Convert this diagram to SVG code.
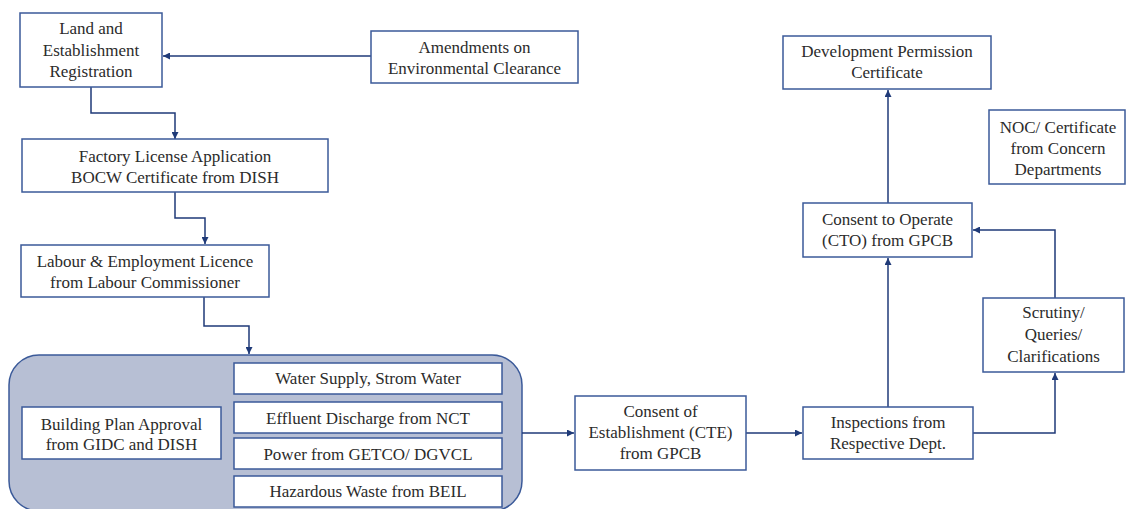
<svg xmlns="http://www.w3.org/2000/svg" width="1126" height="509" viewBox="0 0 1126 509" font-family="Liberation Serif, DejaVu Serif, serif">
<style>
.box{fill:#ffffff;stroke:#3b5a99;stroke-width:1.5}
.grp{fill:#b7bfd4;stroke:#3b5a99;stroke-width:1.5}
text{font-family:"Liberation Serif","DejaVu Serif",serif;font-size:17px;fill:#2b2b2b;text-anchor:middle}
.c{fill:none;stroke:#1f3a78;stroke-width:1.5}
</style>
<defs>
<marker id="ah" viewBox="0 0 10 10" refX="10" refY="5" markerWidth="7" markerHeight="7" markerUnits="userSpaceOnUse" orient="auto">
<path d="M0,0 L10,5 L0,10 z" fill="#1f3a78"/>
</marker>
</defs>
<rect width="1126" height="509" fill="#ffffff"/>

<g id="group-building">
<rect class="grp" x="9" y="355" width="513" height="156" rx="30" ry="30"/>
</g>

<g id="connectors">
<path class="c" d="M371,56 L163,56" marker-end="url(#ah)"/>
<path class="c" d="M91,87 L91,113 L175,113 L175,139" marker-end="url(#ah)"/>
<path class="c" d="M175,192 L175,218 L205,218 L205,244" marker-end="url(#ah)"/>
<path class="c" d="M204,297 L204,326 L249,326 L249,354" marker-end="url(#ah)"/>
<path class="c" d="M522,433 L574,433" marker-end="url(#ah)"/>
<path class="c" d="M746,433 L802,433" marker-end="url(#ah)"/>
<path class="c" d="M973,433 L1055,433 L1055,373" marker-end="url(#ah)"/>
<path class="c" d="M888,407 L888,258" marker-end="url(#ah)"/>
<path class="c" d="M1055,298 L1055,230 L973,230" marker-end="url(#ah)"/>
<path class="c" d="M888,203 L888,90" marker-end="url(#ah)"/>
</g>

<g id="land" font-family="Liberation Serif">
<rect class="box" x="20" y="13" width="142" height="74"/>
<text x="91" y="34">Land and</text>
<text x="91" y="56">Establishment</text>
<text x="91" y="77">Registration</text>
</g>

<g id="amendments">
<rect class="box" x="371" y="31" width="207" height="52"/>
<text x="474.5" y="53">Amendments on</text>
<text x="474.5" y="74">Environmental Clearance</text>
</g>

<g id="factory">
<rect class="box" x="22" y="139" width="306" height="53"/>
<text x="175" y="162">Factory License Application</text>
<text x="175" y="183">BOCW Certificate from DISH</text>
</g>

<g id="labour">
<rect class="box" x="21" y="245" width="248" height="52"/>
<text x="145" y="267">Labour &amp; Employment Licence</text>
<text x="145" y="288">from Labour Commissioner</text>
</g>

<g id="building">
<rect class="box" x="22" y="407" width="199" height="52"/>
<text x="121.5" y="430">Building Plan Approval</text>
<text x="121.5" y="450">from GIDC and DISH</text>
</g>

<g id="water">
<rect class="box" x="234" y="363" width="268" height="31"/>
<text x="368" y="384">Water Supply, Strom Water</text>
</g>

<g id="effluent">
<rect class="box" x="234" y="402" width="268" height="31"/>
<text x="368" y="424">Effluent Discharge from NCT</text>
</g>

<g id="power">
<rect class="box" x="234" y="438" width="268" height="31"/>
<text x="368" y="460">Power from GETCO/ DGVCL</text>
</g>

<g id="hazardous">
<rect class="box" x="234" y="476" width="268" height="31"/>
<text x="368" y="497">Hazardous Waste from BEIL</text>
</g>

<g id="cte">
<rect class="box" x="575" y="396" width="171" height="74"/>
<text x="660.5" y="417">Consent of</text>
<text x="660.5" y="438">Establishment (CTE)</text>
<text x="660.5" y="459">from GPCB</text>
</g>

<g id="inspections">
<rect class="box" x="803" y="407" width="170" height="52"/>
<text x="888" y="428">Inspections from</text>
<text x="888" y="449">Respective Dept.</text>
</g>

<g id="scrutiny">
<rect class="box" x="983" y="298" width="141" height="74"/>
<text x="1053.5" y="318">Scrutiny/</text>
<text x="1053.5" y="340">Queries/</text>
<text x="1053.5" y="362">Clarifications</text>
</g>

<g id="cto">
<rect class="box" x="803" y="203" width="169" height="54"/>
<text x="887.5" y="225">Consent to Operate</text>
<text x="887.5" y="246">(CTO) from GPCB</text>
</g>

<g id="dev">
<rect class="box" x="783" y="36" width="208" height="53"/>
<text x="887" y="57">Development Permission</text>
<text x="887" y="78">Certificate</text>
</g>

<g id="noc">
<rect class="box" x="989" y="110" width="136" height="74"/>
<text x="1058" y="133">NOC/ Certificate</text>
<text x="1058" y="154">from Concern</text>
<text x="1058" y="175">Departments</text>
</g>
</svg>
